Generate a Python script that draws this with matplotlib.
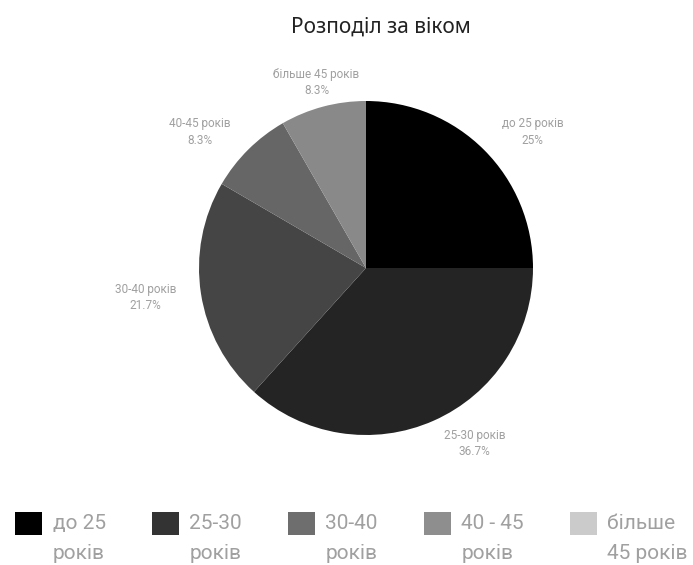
import matplotlib
matplotlib.use("Agg")
import numpy as np
import matplotlib.pyplot as plt
from matplotlib.patches import Patch, Rectangle
from matplotlib.legend_handler import HandlerPatch

# data
categories = ["до 25 років", "25-30 років", "30-40 років", "40-45 років", "більше 45 років"]
legend_labels = ["до 25\nроків", "25-30\nроків", "30-40\nроків", "40 - 45\nроків", "більше\n45 років"]
shares = [25.0, 36.7, 21.7, 8.3, 8.3]
share_text = ["25%", "36.7%", "21.7%", "8.3%", "8.3%"]

PIE_COLORS = ["#000000", "#242424", "#454545", "#666666", "#898989"]
LEGEND_COLORS = ["#000000", "#333333", "#6e6e6e", "#8e8e8e", "#cbcbcb"]
LABEL_GRAY = "#a0a0a0"
TITLE_COLOR = "#222222"

plt.rcParams["font.family"] = ["Roboto", "DejaVu Sans"]

W, H = 693, 565
fig = plt.figure(figsize=(W / 100, H / 100), dpi=100)

# pie centred at (366, 268) px with radius 167 px; axes limits +-1.4
cx, cy, r, lim = 366, 268, 167, 1.4
half = lim * r
ax = fig.add_axes([(cx - half) / W, (H - cy - half) / H, 2 * half / W, 2 * half / H])
wedges, _ = ax.pie(shares, colors=PIE_COLORS, startangle=90, counterclock=False,
                   wedgeprops={"linewidth": 0})
ax.set_xlim(-lim, lim)
ax.set_ylim(-lim, lim)
ax.set_aspect("equal")
ax.axis("off")

# outside labels, just past the rim
for w, cat, pct in zip(wedges, categories, share_text):
    ang = np.deg2rad((w.theta1 + w.theta2) / 2)
    c, s = np.cos(ang), np.sin(ang)
    ha = "left" if c > 0.3 else ("right" if c < -0.3 else "center")
    ax.text(1.15 * c, 1.15 * s, f"{cat}\n{pct}", ha=ha, va="center",
            multialignment="center", fontsize=8.5, color=LABEL_GRAY,
            linespacing=1.35)

fig.text(0.55, 0.952, "Розподіл за віком", ha="center", va="center",
         fontsize=15, color=TITLE_COLOR, family=["Noto Sans", "DejaVu Sans"])


def top_patch(legend, orig_handle, xdescent, ydescent, width, height, fontsize):
    # square sits level with the first text line
    return Rectangle((-xdescent, -ydescent + 0.75 * fontsize), width, height)


handles = [Patch(facecolor=col, edgecolor="none") for col in LEGEND_COLORS]
leg = fig.legend(handles, legend_labels, loc="lower left", ncol=5, frameon=False,
                 bbox_to_anchor=(13 / W, 0.0, 677 / W, 0.1), mode="expand",
                 prop={"size": 15}, labelcolor=LABEL_GRAY,
                 handlelength=1.3, handleheight=1.3, handletextpad=0.5,
                 borderpad=0.1, borderaxespad=0.0,
                 handler_map={Patch: HandlerPatch(patch_func=top_patch)})
for t in leg.get_texts():
    t.set_linespacing(1.75)

fig.savefig("out.png", dpi=100)
